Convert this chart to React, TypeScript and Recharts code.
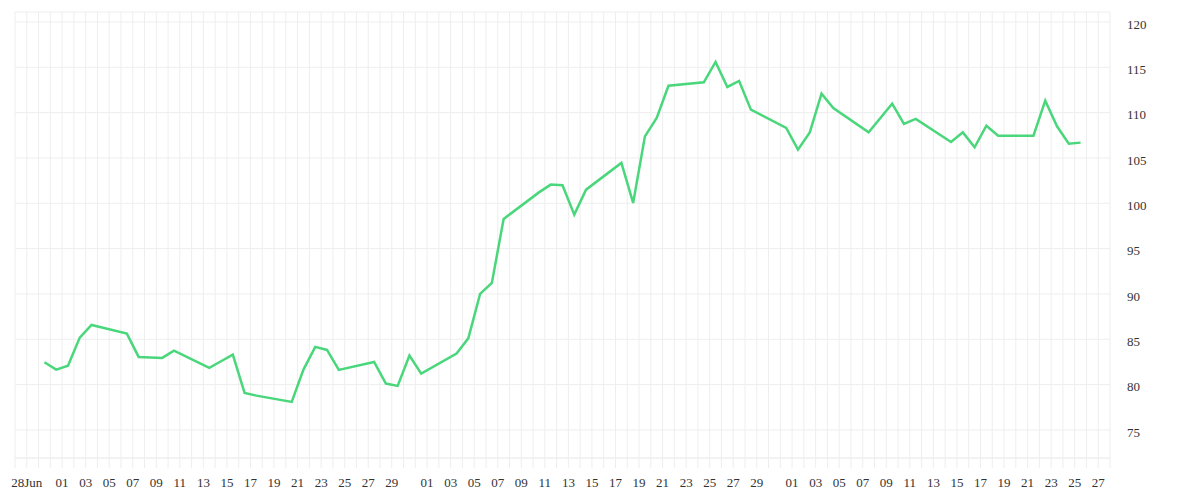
import React from 'react';
import { LineChart, Line, XAxis, YAxis, CartesianGrid } from 'recharts';

// daily closes (2020, weekdays)
const dates = [
  '2020-06-29', '2020-06-30', '2020-07-01', '2020-07-02', '2020-07-03',
  '2020-07-06', '2020-07-07', '2020-07-08', '2020-07-09', '2020-07-10',
  '2020-07-13', '2020-07-14', '2020-07-15', '2020-07-16', '2020-07-17',
  '2020-07-20', '2020-07-21', '2020-07-22', '2020-07-23', '2020-07-24',
  '2020-07-27', '2020-07-28', '2020-07-29', '2020-07-30', '2020-07-31',
  '2020-08-03', '2020-08-04', '2020-08-05', '2020-08-06', '2020-08-07',
  '2020-08-10', '2020-08-11', '2020-08-12', '2020-08-13', '2020-08-14',
  '2020-08-17', '2020-08-18', '2020-08-19', '2020-08-20', '2020-08-21',
  '2020-08-24', '2020-08-25', '2020-08-26', '2020-08-27', '2020-08-28',
  '2020-08-31', '2020-09-01', '2020-09-02', '2020-09-03', '2020-09-04',
  '2020-09-07', '2020-09-08', '2020-09-09', '2020-09-10', '2020-09-11',
  '2020-09-14', '2020-09-15', '2020-09-16', '2020-09-17', '2020-09-18',
  '2020-09-21', '2020-09-22', '2020-09-23', '2020-09-24', '2020-09-25',
];

const prices = [
  82.46, 81.65, 82.09, 85.18, 86.58,
  85.62, 83.05, 83.0, 82.94, 83.75,
  81.84, 82.57, 83.3, 79.08, 78.78,
  78.09, 81.65, 84.16, 83.82, 81.62,
  82.5, 80.11, 79.85, 83.2, 81.21,
  83.42, 85.1, 90.0, 91.21, 98.27,
  101.2, 102.06, 101.98, 98.75, 101.5,
  104.45, 100.04, 107.38, 109.41, 112.97,
  113.34, 115.59, 112.83, 113.49, 110.33,
  108.31, 105.92, 107.82, 112.09, 110.51,
  107.82, 109.4, 110.99, 108.75, 109.3,
  106.76, 107.82, 106.17, 108.56, 107.46,
  107.46, 111.32, 108.49, 106.58, 106.69,
];

const yTicks = [75, 80, 85, 90, 95, 100, 105, 110, 115, 120];
const labelDays = [1, 3, 5, 7, 9, 11, 13, 15, 17, 19, 21, 23, 25, 27, 29];
const firstLabel = '28Jun';

const DAY = 86400000;
const toTime = (s: string) => {
  const [y, m, d] = s.split('-').map(Number);
  return Date.UTC(y, m - 1, d);
};

const xStart = toTime('2020-06-27');
const xEnd = toTime('2020-09-28');

const dayTicks: number[] = [];
for (let t = xStart; t <= xEnd; t += DAY) dayTicks.push(t);

// points sit at midday, grid lines at midnight
const data = dates.map((d, i) => ({ t: toTime(d) + DAY / 2, price: prices[i] }));

const formatTick = (t: number) => {
  const dt = new Date(t);
  const day = dt.getUTCDate();
  const month = dt.getUTCMonth();
  if (month === 5) return day === 28 ? firstLabel : '';
  return labelDays.includes(day) ? String(day).padStart(2, '0') : '';
};

export default function App() {
  return (
    <LineChart width={1184} height={484} data={data} margin={{ top: 4, right: 0, bottom: 0, left: 7 }}>
      <CartesianGrid stroke="#eeeeee" />
      <XAxis
        dataKey="t"
        type="number"
        domain={[xStart, xEnd]}
        ticks={dayTicks}
        interval={0}
        tickFormatter={formatTick}
        height={34}
        axisLine={{ stroke: '#eeeeee' }}
        tickLine={{ stroke: '#eeeeee' }}
        tickSize={10}
        tickMargin={10}
        tick={{ fill: '#333', fontSize: 13 }}
        allowDataOverflow
      />
      <YAxis
        orientation="right"
        domain={[71.9, 121.1]}
        ticks={yTicks}
        width={82}
        axisLine={false}
        tickLine={false}
        tickSize={6}
        tickMargin={11}
        tick={{ fill: '#333', fontSize: 13, dy: 2 }}
        allowDataOverflow
      />
      <Line
        dataKey="price"
        type="linear"
        stroke="#4ad77c"
        strokeWidth={2.5}
        dot={false}
        isAnimationActive={false}
      />
    </LineChart>
  );
}
